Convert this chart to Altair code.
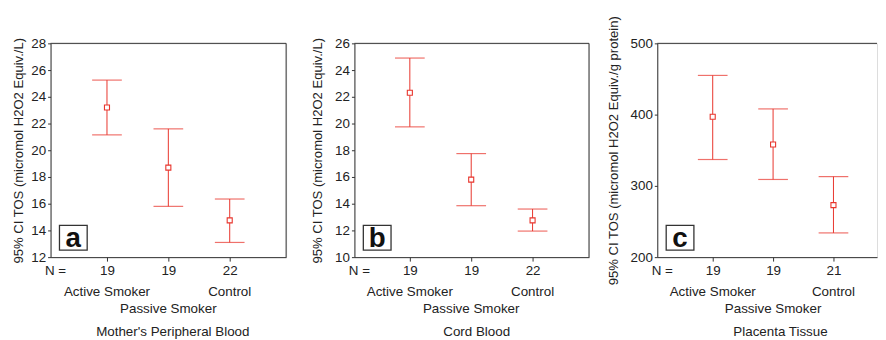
import altair as alt
import pandas as pd

groups = ["Active Smoker", "Passive Smoker", "Control"]

# Panel a: Mother's Peripheral Blood
a_mean = [23.2, 18.7, 14.75]
a_low = [21.15, 15.8, 13.1]
a_high = [25.25, 21.6, 16.35]
a_n = ["19", "19", "22"]

# Panel b: Cord Blood
b_mean = [22.3, 15.8, 12.75]
b_low = [19.75, 13.85, 11.95]
b_high = [24.9, 17.75, 13.6]
b_n = ["19", "19", "22"]

# Panel c: Placenta Tissue
c_mean = [397, 358, 273]
c_low = [337, 309, 234]
c_high = [455, 408, 313]
c_n = ["19", "19", "21"]

RED = "#e8352c"
INK = "#222222"
FONT = "Liberation Sans"
FS = 13.5
YT = 13.2
H = 216


def panel(letter, title, ytitle, mean, low, high, ns, ydom, yvals, width,
          xdom, title_x, title_pad, right_border=True):
    df = pd.DataFrame({
        "idx": [1, 2, 3],
        "group": groups,
        "mean": mean,
        "low": low,
        "high": high,
    })
    one = df.head(1)
    label_expr = "['', " + ", ".join(f"'{n}'" for n in ns) + "][datum.value]"
    x_axis = alt.Axis(
        values=[1, 2, 3], labelExpr=label_expr, title=title,
        grid=False, tickSize=4, labelPadding=14, labelBaseline="alphabetic",
        labelFontSize=FS, labelColor=INK, labelFont=FONT, labelOverlap=False,
        titleFontSize=FS, titleFontWeight="normal", titleColor=INK, titleFont=FONT,
        titleY=79, titleBaseline="alphabetic", titleX=title_x,
        domainColor="#333333", tickColor="#333333", labelFlush=False,
    )
    y_axis = alt.Axis(
        values=yvals, title=ytitle, grid=False, tickSize=3, labelPadding=2,
        labelFontSize=FS, labelColor=INK, labelFont=FONT, labelOverlap=False,
        labelFlush=False,
        titleFontSize=YT, titleFontWeight="normal", titleColor=INK, titleFont=FONT,
        titlePadding=title_pad, domainColor="#333333", tickColor="#333333",
    )
    xs = alt.Scale(domain=xdom, nice=False, zero=False)
    ys = alt.Scale(domain=ydom, nice=False, zero=False)

    def X():
        return alt.X("idx:Q", scale=xs, axis=x_axis)

    def Y(f):
        return alt.Y(f, scale=ys, axis=y_axis)

    base = alt.Chart(df)
    rules = base.mark_rule(color=RED, strokeWidth=1).encode(
        x=X(), y=Y("low:Q"), y2="high:Q",
    )
    cap_lo = base.mark_tick(color=RED, size=30, thickness=1.2, orient="horizontal").encode(
        x=X(), y=Y("low:Q"))
    cap_hi = base.mark_tick(color=RED, size=30, thickness=1.2, orient="horizontal").encode(
        x=X(), y=Y("high:Q"))
    pts = base.mark_square(size=26, fill="white", stroke=RED, strokeWidth=1.1, opacity=1).encode(
        x=X(), y=Y("mean:Q")
    )
    odd = df[df["idx"] != 2]
    even = df[df["idx"] == 2]
    lab1 = alt.Chart(odd).mark_text(fontSize=FS, font=FONT, color=INK, baseline="alphabetic").encode(
        x=X(), y=alt.value(H + 39), text="group:N"
    )
    lab2 = alt.Chart(even).mark_text(fontSize=FS, font=FONT, color=INK, baseline="alphabetic").encode(
        x=X(), y=alt.value(H + 56), text="group:N"
    )
    nlab = alt.Chart(one).mark_text(fontSize=FS, font=FONT, color=INK, baseline="alphabetic",
                                    align="center").encode(
        x=alt.value(5), y=alt.value(H + 18), text=alt.value("N =")
    )
    top = alt.Chart(one).mark_rule(color="#333333", strokeWidth=1).encode(
        x=alt.value(0), x2=alt.value(width), y=alt.value(0)
    )
    layers = [top]
    if right_border:
        layers.append(alt.Chart(one).mark_rule(color="#333333", strokeWidth=1).encode(
            x=alt.value(width), y=alt.value(0), y2=alt.value(H)))
    box = alt.Chart(one).mark_rect(fill="white", stroke="#333333", strokeWidth=1.3).encode(
        x=alt.value(9), x2=alt.value(37), y=alt.value(H - 32), y2=alt.value(H - 7)
    )
    letter_t = alt.Chart(one).mark_text(fontSize=28, fontWeight="bold", font=FONT,
                                        color="#111111", baseline="alphabetic",
                                        align="center").encode(
        x=alt.value(23), y=alt.value(H - 10), text=alt.value(letter)
    )
    layers += [rules, cap_lo, cap_hi, pts, lab1, lab2, nlab, box, letter_t]
    return alt.layer(*layers).properties(width=width, height=H)


pa = panel("a", "Mother's Peripheral Blood", "95% CI TOS (micromol H2O2 Equiv./L)",
           a_mean, a_low, a_high, a_n, [12, 28], list(range(12, 29, 2)), 238,
           [1 - 57 / 62, 1 - 57 / 62 + 238 / 62], 123, 5)
pb = panel("b", "Cord Blood", "95% CI TOS (micromol H2O2 Equiv./L)",
           b_mean, b_low, b_high, b_n, [10, 26], list(range(10, 27, 2)), 237,
           [1 - 56 / 62, 1 - 56 / 62 + 237 / 62], 123, 10)
pc = panel("c", "Placenta Tissue", "95% CI TOS (micromol H2O2 Equiv./g protein)",
           c_mean, c_low, c_high, c_n, [200, 500], [200, 300, 400, 500], 222,
           [1 - 56 / 61, 1 - 56 / 61 + 222 / 61], 124, 10, right_border=False)

chart = alt.hconcat(pa, pb, pc, spacing=69, bounds="flush").properties(
    padding={"left": 3, "top": 5, "right": 0, "bottom": 0}
).configure_view(stroke=None).configure(background="white")

chart.save("out.html", embed_options={"renderer": "svg", "actions": False})
